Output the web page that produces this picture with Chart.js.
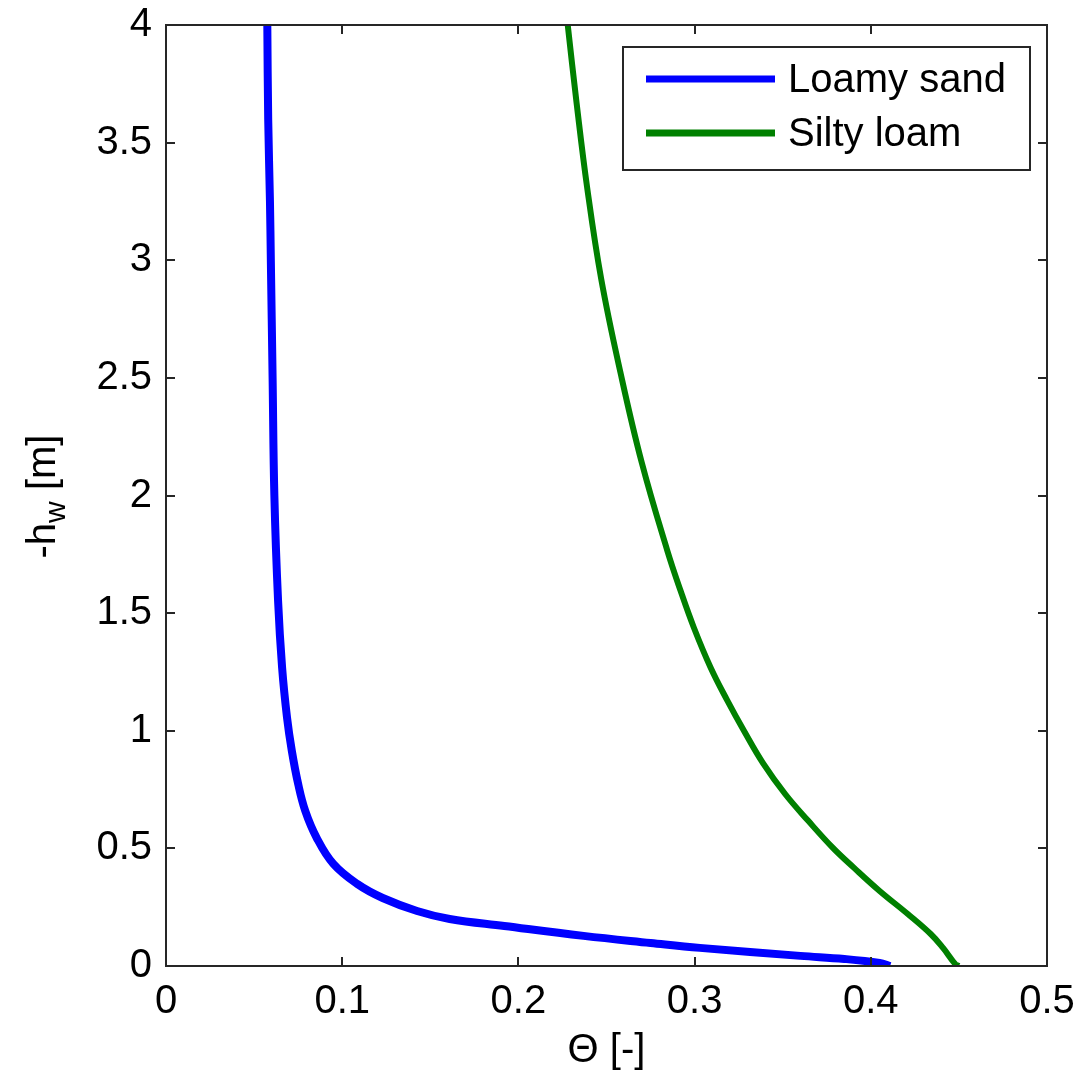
<!DOCTYPE html>
<html>
<head>
<meta charset="utf-8">
<script src="https://cdn.jsdelivr.net/npm/chart.js@4.4.1/dist/chart.umd.min.js"></script>
<style>
html,body{margin:0;padding:0;background:#fff;}
#wrap{width:1079px;height:1079px;}
</style>
</head>
<body>
<div id="wrap"><canvas id="c" width="1079" height="1079"></canvas></div>
<script>
// Data (theta [-], -h_w [m])
const loamySandHead  = [4.0, 3.6, 3.25, 3.0, 2.5, 2.0, 1.553, 1.268, 1.055, 0.915, 0.774, 0.66, 0.545, 0.434, 0.349, 0.289, 0.234, 0.20, 0.17, 0.128, 0.098, 0.077, 0.043, 0.03, 0.013, 0.0];
const loamySandTheta = [0.0575, 0.058, 0.059, 0.0595, 0.0605, 0.0615, 0.0636, 0.0659, 0.0687, 0.0714, 0.0750, 0.0790, 0.0855, 0.0950, 0.1085, 0.123, 0.1425, 0.161, 0.192, 0.237, 0.275, 0.303, 0.36, 0.385, 0.405, 0.411];
const siltyLoamHead  = [4.0, 3.67, 3.31, 2.92, 2.52, 2.14, 1.766, 1.596, 1.44, 1.27, 1.128, 1.0, 0.86, 0.73, 0.617, 0.502, 0.417, 0.319, 0.221, 0.136, 0.077, 0.008, 0.0];
const siltyLoamTheta = [0.228, 0.233, 0.239, 0.247, 0.258, 0.270, 0.2845, 0.292, 0.2995, 0.309, 0.3186, 0.328, 0.339, 0.3515, 0.3645, 0.3785, 0.3905, 0.405, 0.421, 0.434, 0.441, 0.448, 0.45];
const seriesLabels = ['Loamy sand', 'Silty loam'];
const seriesColors = ['#0000ff', '#008000'];
const xTicks = [0, 0.1, 0.2, 0.3, 0.4, 0.5];
const yTicks = [0, 0.5, 1, 1.5, 2, 2.5, 3, 3.5, 4];
const xTitle = 'Θ [-]';

const FONT = '"Liberation Sans", Arial, Helvetica, sans-serif';

function pts(xs, ys){ return xs.map((x,i)=>({x:x, y:ys[i]})); }

const framePlugin = {
  id: 'frame',
  afterDraw(chart){
    const ctx = chart.ctx, a = chart.chartArea;
    const xs = chart.scales.x, ys = chart.scales.y;
    ctx.save();
    ctx.strokeStyle = '#262626';
    ctx.lineWidth = 2;
    ctx.strokeRect(a.left, a.top, a.right - a.left, a.bottom - a.top);
    const tl = 9;
    ctx.beginPath();
    xTicks.forEach(v=>{
      const px = Math.round(xs.getPixelForValue(v));
      ctx.moveTo(px, a.bottom); ctx.lineTo(px, a.bottom - tl);
      ctx.moveTo(px, a.top); ctx.lineTo(px, a.top + tl);
    });
    yTicks.forEach(v=>{
      const py = Math.round(ys.getPixelForValue(v));
      ctx.moveTo(a.left, py); ctx.lineTo(a.left + tl, py);
      ctx.moveTo(a.right, py); ctx.lineTo(a.right - tl, py);
    });
    ctx.stroke();

    // y-axis title with subscript
    ctx.fillStyle = '#000';
    ctx.translate(55, (a.top + a.bottom)/2 + 1);
    ctx.rotate(-Math.PI/2);
    ctx.textBaseline = 'alphabetic';
    const big = '40px ' + FONT, small = '30px ' + FONT;
    ctx.font = big; const w1 = ctx.measureText('-h').width;
    ctx.font = small; const w2 = ctx.measureText('w').width;
    ctx.font = big; const w3 = ctx.measureText(' [m]').width;
    let x0 = -(w1 + w2 + w3)/2;
    ctx.font = big; ctx.textAlign = 'left';
    ctx.fillText('-h', x0, 0);
    ctx.font = small; ctx.fillText('w', x0 + w1, 10);
    ctx.font = big; ctx.fillText(' [m]', x0 + w1 + w2, 0);
    ctx.restore();

    // legend
    ctx.save();
    const lx = 623, ly = 47, lw = 407, lh = 123;
    ctx.fillStyle = '#fff';
    ctx.fillRect(lx, ly, lw, lh);
    ctx.strokeStyle = '#262626'; ctx.lineWidth = 2;
    ctx.strokeRect(lx, ly, lw, lh);
    chart.data.datasets.forEach((ds, i)=>{
      const yy = 79 + i*54;
      ctx.strokeStyle = ds.borderColor; ctx.lineWidth = 7; ctx.lineCap = 'butt';
      ctx.beginPath(); ctx.moveTo(646, yy); ctx.lineTo(775, yy); ctx.stroke();
      ctx.fillStyle = '#000'; ctx.font = '40px ' + FONT;
      ctx.textAlign = 'left'; ctx.textBaseline = 'middle';
      ctx.fillText(ds.label, 788, yy + 2);
    });
    ctx.restore();
  }
};

new Chart(document.getElementById('c'), {
  type: 'scatter',
  data: {
    datasets: [
      { label: seriesLabels[0], data: pts(loamySandTheta, loamySandHead), borderColor: seriesColors[0], backgroundColor: seriesColors[0], showLine: true, borderWidth: 8, pointRadius: 0, tension: 0.4 },
      { label: seriesLabels[1], data: pts(siltyLoamTheta, siltyLoamHead), borderColor: seriesColors[1], backgroundColor: seriesColors[1], showLine: true, borderWidth: 6, pointRadius: 0, tension: 0.4 }
    ]
  },
  options: {
    responsive: false,
    animation: false,
    layout: { padding: { top: 25, right: 32, left: 0, bottom: 0 } },
    plugins: { legend: { display: false }, tooltip: { enabled: false } },
    scales: {
      x: {
        type: 'linear', min: 0, max: 0.5,
        afterBuildTicks: s => { s.ticks = xTicks.map(v=>({value:v})); },
        afterFit: s => { s.height = 113; s.paddingLeft = 0; s.paddingRight = 0; },
        grid: { display: false, drawTicks: false },
        border: { display: false },
        ticks: { color: '#000', font: { family: FONT, size: 40 }, padding: 12, maxRotation: 0, callback: v => String(Math.round(v*10)/10) },
        title: { display: true, text: xTitle, color: '#000', font: { family: FONT, size: 40 }, padding: { top: 6 } }
      },
      y: {
        type: 'linear', min: 0, max: 4,
        afterBuildTicks: s => { s.ticks = yTicks.map(v=>({value:v})); },
        afterFit: s => { s.width = 166; s.paddingTop = 0; s.paddingBottom = 0; },
        grid: { display: false, drawTicks: false },
        border: { display: false },
        ticks: { color: '#000', font: { family: FONT, size: 40 }, padding: 14, callback: v => String(v) }
      }
    }
  },
  plugins: [framePlugin]
});
</script>
</body>
</html>
